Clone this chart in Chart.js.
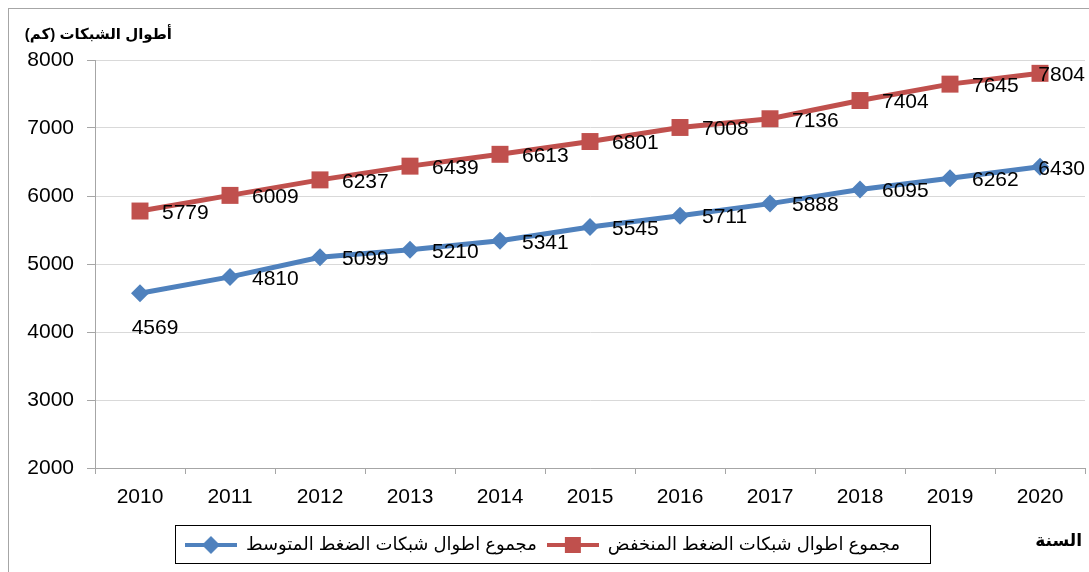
<!DOCTYPE html>
<html>
<head>
<meta charset="utf-8">
<script src="https://cdn.jsdelivr.net/npm/chart.js@4.4.0/dist/chart.umd.min.js"></script>
<style>
  html, body { margin: 0; padding: 0; background: #fff; }
  #wrap { width: 1089px; height: 572px; }
</style>
</head>
<body>
<div id="wrap"><canvas id="grafica"></canvas></div>
<script>
var years = ['2010', '2011', '2012', '2013', '2014', '2015', '2016', '2017', '2018', '2019', '2020'];
var lowVoltage = [5779, 6009, 6237, 6439, 6613, 6801, 7008, 7136, 7404, 7645, 7804];
var mediumVoltage = [4569, 4810, 5099, 5210, 5341, 5545, 5711, 5888, 6095, 6262, 6430];
var lowLabel = 'مجموع اطوال شبكات الضغط المنخفض';
var mediumLabel = 'مجموع اطوال شبكات الضغط المتوسط';
var yTitle = 'أطوال الشبكات (كم)';
var xTitle = 'السنة';

var red = '#C0504D';
var blue = '#4F81BD';

// little legend pictures: a line with the marker in the middle
function legendIcon(color, shape) {
    var c = document.createElement('canvas');
    c.width = 52; c.height = 18;
    var g = c.getContext('2d');
    g.strokeStyle = color; g.lineWidth = 4;
    g.beginPath(); g.moveTo(0, 9); g.lineTo(52, 9); g.stroke();
    g.fillStyle = color;
    if (shape === 'rect') {
        g.fillRect(18, 1, 16, 16);
    } else {
        g.beginPath();
        g.moveTo(26, 0); g.lineTo(35, 9); g.lineTo(26, 18); g.lineTo(17, 9);
        g.closePath(); g.fill();
    }
    return c;
}
var lowIcon = legendIcon(red, 'rect');
var mediumIcon = legendIcon(blue, 'diamond');

var extras = {
    id: 'extras',
    beforeDraw: function (chart) {
        var ctx = chart.ctx;
        ctx.save();
        ctx.strokeStyle = '#A6A6A6';
        ctx.lineWidth = 1;
        ctx.strokeRect(8.5, 8.5, 1200, 700);
        ctx.restore();
    },
    afterDatasetsDraw: function (chart) {
        var ctx = chart.ctx;
        var area = chart.chartArea;
        ctx.save();
        ctx.font = '21px "Liberation Sans", Arial, sans-serif';
        ctx.fillStyle = '#000';
        ctx.textBaseline = 'middle';
        chart.data.datasets.forEach(function (ds, di) {
            var meta = chart.getDatasetMeta(di);
            meta.data.forEach(function (pt, i) {
                var txt = String(ds.data[i]);
                var w = ctx.measureText(txt).width;
                var x, y;
                if (di === 1 && i === 0) {
                    x = pt.x - w / 2 + 15; y = pt.y + 35;
                } else {
                    x = Math.min(pt.x + 22, area.right - w); y = pt.y + 2;
                }
                ctx.textAlign = 'left';
                ctx.fillText(txt, x, y);
            });
        });
        ctx.restore();
    },
    afterDraw: function (chart) {
        var ctx = chart.ctx;
        ctx.save();
        ctx.fillStyle = '#000';
        ctx.direction = 'rtl';
        ctx.textAlign = 'right';
        ctx.textBaseline = 'middle';
        ctx.font = 'bold 15px Arial, "Liberation Sans", "DejaVu Sans", sans-serif';
        ctx.fillText(yTitle, 172, 35);
        ctx.font = 'bold 17px Arial, "Liberation Sans", "DejaVu Sans", sans-serif';
        ctx.fillText(xTitle, 1082, 541);
        // frame round the legend
        var l = 175, r = 930;
        ctx.strokeStyle = '#000';
        ctx.lineWidth = 1;
        ctx.strokeRect(l + 0.5, 525.5, r - l, 38);
        ctx.restore();
    }
};

var ctx = document.getElementById('grafica').getContext('2d');
var myChart = new Chart(ctx, {
    type: 'line',
    data: {
        labels: years,
        datasets: [{
            label: lowLabel,
            data: lowVoltage,
            borderColor: red,
            backgroundColor: red,
            borderWidth: 5,
            pointStyle: 'rect',
            pointRadius: 12,
            pointHoverRadius: 12,
            pointBorderWidth: 0,
            tension: 0
        },
        {
            label: mediumLabel,
            data: mediumVoltage,
            borderColor: blue,
            backgroundColor: blue,
            borderWidth: 5,
            pointStyle: 'rectRot',
            pointRadius: 9,
            pointHoverRadius: 9,
            pointBorderWidth: 0,
            tension: 0
        }]
    },
    options: {
        responsive: true,
        maintainAspectRatio: false,
        animation: false,
        layout: { autoPadding: false, padding: { top: 60, right: 4, bottom: 8, left: 0 } },
        plugins: {
            tooltip: { enabled: false },
            legend: {
                position: 'bottom',
                reverse: true,
                labels: {
                    usePointStyle: true,
                    pointStyleWidth: 52,
                    padding: 10,
                    color: '#000',
                    font: { size: 18, family: 'Arial, "Liberation Sans", "DejaVu Sans", sans-serif' },
                    generateLabels: function (chart) {
                        return chart.data.datasets.map(function (ds, i) {
                            return {
                                text: ds.label,
                                pointStyle: i === 0 ? lowIcon : mediumIcon,
                                fillStyle: ds.borderColor,
                                strokeStyle: ds.borderColor,
                                lineWidth: 0,
                                hidden: false,
                                datasetIndex: i
                            };
                        });
                    }
                }
            }
        },
        scales: {
            x: {
                offset: true,
                grid: {
                    offset: true,
                    drawOnChartArea: false,
                    color: '#A6A6A6',
                    tickLength: 6
                },
                border: { color: '#A6A6A6' },
                ticks: {
                    color: '#000',
                    padding: 11,
                    maxRotation: 0,
                    font: { size: 21, family: '"Liberation Sans", Arial, sans-serif' }
                },
                afterFit: function (scale) { scale.height = 58; }
            },
            y: {
                min: 2000,
                max: 8000,
                ticks: {
                    stepSize: 1000,
                    color: '#000',
                    padding: 13,
                    font: { size: 21, family: '"Liberation Sans", Arial, sans-serif' },
                    callback: function (v) { return String(v); }
                },
                grid: {
                    color: '#D9D9D9',
                    tickColor: '#A6A6A6',
                    tickLength: 8
                },
                border: { color: '#A6A6A6' },
                afterFit: function (scale) { scale.width = 95; }
            }
        }
    },
    plugins: [extras]
});
</script>
</body>
</html>
